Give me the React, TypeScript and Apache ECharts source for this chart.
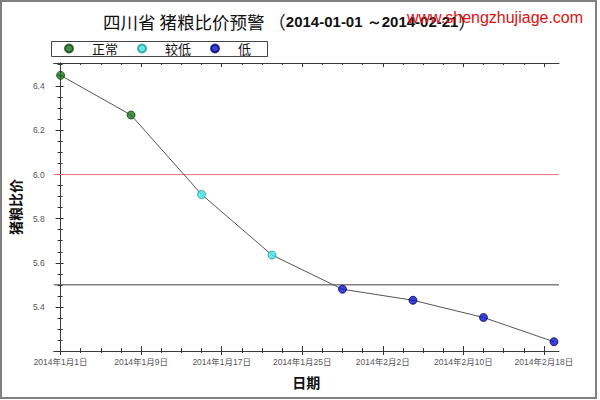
import React, { useEffect, useRef } from "react";
import * as echarts from "echarts";

// ---- data ----
const dates = ["2014-01-01", "2014-01-08", "2014-01-15", "2014-01-22", "2014-01-29", "2014-02-05", "2014-02-12", "2014-02-19"];
const ratios = [6.45, 6.27, 5.91, 5.635, 5.48, 5.43, 5.352, 5.242];
const levels = ["正常", "正常", "较低", "较低", "低", "低", "低", "低"];
const levelNames = ["正常", "较低", "低"];
const thresholds = [6.0, 5.5];
const xTickDates = ["2014-01-01", "2014-01-09", "2014-01-17", "2014-01-25", "2014-02-02", "2014-02-10", "2014-02-18"];
const yTickLabels = [5.4, 5.6, 5.8, 6.0, 6.2, 6.4];
const yMajorTicks = [5.2, 5.4, 5.6, 5.8, 6.0, 6.2, 6.4];
const titleMain = "四川省 猪粮比价预警 （";
const titleRange = "2014-01-01 ～2014-02-21";
const titleEnd = "）";
const watermark = "www.shengzhujiage.com";

// ---- styles ----
const levelFill = ["#1d741d", "#3fe6e6", "#0a14c4"];
const levelStroke = ["#0b450b", "#1d9a9a", "#000070"];
const thresholdColors = ["#ee6f7c", "#404040"];

const BASE = Date.UTC(2014, 0, 1);
const DAY = 86400000;
const toDay = (s: string) => {
  const [y, m, d] = s.split("-").map(Number);
  return (Date.UTC(y, m - 1, d) - BASE) / DAY;
};
const fmtDay = (v: number) => {
  const dt = new Date(BASE + Math.round(v) * DAY);
  return `${dt.getUTCFullYear()}年${dt.getUTCMonth() + 1}月${dt.getUTCDate()}日`;
};

const X_MIN = -0.68;
const X_MAX = 49.5;
const Y_MIN = 5.2;
const Y_MAX = 6.506;

const majorX = xTickDates.map(toDay);
const minorX: number[] = [];
for (let d = 2; d <= 48; d += 2) if (d % 8 !== 0) minorX.push(d);
const minorY: number[] = [];
for (let i = 0; i <= 26; i++) {
  const v = Math.round((5.2 + i * 0.05) * 100) / 100;
  if (Math.round(v * 100) % 20 !== 0 && v <= Y_MAX) minorY.push(v);
}

const TICK = { color: "#333", width: 1 };
const LINE = { color: "#3a3a3a", width: 1 };

function mkAxis(kind: "x" | "y", extra: any) {
  return {
    type: "value",
    min: kind === "x" ? X_MIN : Y_MIN,
    max: kind === "x" ? X_MAX : Y_MAX,
    splitLine: { show: false },
    axisLabel: { show: false },
    axisLine: { show: false },
    axisTick: { show: false },
    ...extra,
  };
}
const ticks = (inside: boolean, length: number, values: number[]) => ({
  show: true,
  inside,
  length,
  customValues: values,
  lineStyle: TICK,
});

export default function App() {
  const ref = useRef<HTMLDivElement>(null);
  useEffect(() => {
    if (!ref.current) return;
    const chart = echarts.init(ref.current, undefined, { renderer: "svg" });
    const xs = dates.map(toDay);

    const scatterSeries = levelNames.map((name, li) => ({
      name,
      type: "scatter",
      symbol: "circle",
      symbolSize: 8,
      z: 5,
      itemStyle: { color: levelFill[li], borderColor: levelStroke[li], borderWidth: 1 },
      data: xs.map((x, i) => (levels[i] === name ? [x, ratios[i]] : null)).filter((d) => d),
    }));

    const option: any = {
      animation: false,
      backgroundColor: "#fff",
      title: {
        left: 98,
        top: 8,
        text: `{a|${titleMain}}{b|${titleRange}}{a|${titleEnd}}`,
        textStyle: {
          rich: {
            a: { fontSize: 17.5, fontFamily: '"Noto Sans CJK SC"', color: "#111", fontWeight: "normal" },
            b: { fontSize: 15, fontFamily: '"Liberation Sans", Arial', color: "#111", fontWeight: "bold" },
          },
        },
      },
      legend: {
        data: levelNames,
        left: 64,
        top: 42,
        padding: 0,
        itemGap: 19,
        itemWidth: 8,
        itemHeight: 8,
        icon: "circle",
        textStyle: { fontSize: 13, fontFamily: '"Noto Sans CJK SC"', color: "#111", padding: [0, 0, 0, 14] },
      },
      graphic: [
        { type: "rect", z: -1, shape: { x: 1, y: 1, width: 595, height: 397 }, style: { fill: "none", stroke: "#808080", lineWidth: 2 } },
        { type: "rect", z: 0, shape: { x: 51.5, y: 41.5, width: 216, height: 15 }, style: { fill: "#fff", stroke: "#444", lineWidth: 1 } },
        {
          type: "text",
          z: 100,
          x: 407,
          y: 17,
          style: { text: watermark, fill: "#dd1010", font: '16px "Liberation Sans", Arial', textVerticalAlign: "middle" },
        },
      ],
      grid: { left: 51, right: 41, top: 63, bottom: 49, containLabel: false },
      xAxis: [
        mkAxis("x", {
          position: "bottom",
          axisLine: { show: true, lineStyle: LINE },
          axisTick: ticks(false, 4, majorX),
          axisLabel: {
            show: true,
            customValues: majorX,
            formatter: (v: number) => fmtDay(v),
            fontSize: 8.5,
            color: "#555",
            margin: 7,
            fontFamily: '"Liberation Sans", Arial, "Noto Sans CJK SC"',
          },
          name: "日期",
          nameLocation: "middle",
          nameGap: 24,
          nameTextStyle: { fontSize: 14, fontWeight: "bold", color: "#111", fontFamily: '"Noto Sans CJK SC"' },
        }),
        mkAxis("x", { position: "bottom", axisTick: ticks(true, 5, majorX) }),
        mkAxis("x", { position: "bottom", axisTick: ticks(false, 2, minorX) }),
        mkAxis("x", { position: "bottom", axisTick: ticks(true, 3, minorX) }),
        mkAxis("x", { position: "top", axisLine: { show: true, lineStyle: LINE }, axisTick: ticks(true, 4, majorX) }),
        mkAxis("x", { position: "top", axisTick: ticks(true, 2, minorX) }),
      ],
      yAxis: [
        mkAxis("y", {
          position: "left",
          axisLine: { show: true, lineStyle: LINE },
          axisTick: ticks(false, 5, yMajorTicks),
          axisLabel: {
            show: true,
            customValues: yTickLabels,
            formatter: (v: number) => v.toFixed(1),
            fontSize: 8.5,
            color: "#555",
            margin: 9,
            fontFamily: '"Liberation Sans", Arial',
          },
          name: "猪粮比价",
          nameLocation: "middle",
          nameGap: 27,
          nameRotate: 90,
          nameTextStyle: { fontSize: 14, fontWeight: "bold", color: "#111", fontFamily: '"Noto Sans CJK SC"' },
        }),
        mkAxis("y", { position: "left", axisTick: ticks(true, 3, yMajorTicks) }),
        mkAxis("y", { position: "left", axisTick: ticks(false, 3, minorY) }),
        mkAxis("y", { position: "left", axisTick: ticks(true, 2, minorY) }),
        mkAxis("y", { position: "right", axisLine: { show: true, lineStyle: LINE }, axisTick: ticks(true, 4, yMajorTicks) }),
        mkAxis("y", { position: "right", axisTick: ticks(true, 2, minorY) }),
      ],
      series: [
        ...thresholds.map((t, i) => ({
          type: "line",
          name: "th" + i,
          symbol: "none",
          silent: true,
          z: 2,
          lineStyle: { color: thresholdColors[i], width: 1 },
          data: [
            [X_MIN, t],
            [X_MAX, t],
          ],
        })),
        {
          type: "line",
          name: "ratio",
          symbol: "none",
          z: 3,
          lineStyle: { color: "#555", width: 1 },
          data: xs.map((x, i) => [x, ratios[i]]),
        },
        ...scatterSeries,
      ],
    };
    chart.setOption(option);
    return () => chart.dispose();
  }, []);
  return <div ref={ref} style={{ position: "absolute", left: 0, top: 0, width: 600, height: 400 }} />;
}
